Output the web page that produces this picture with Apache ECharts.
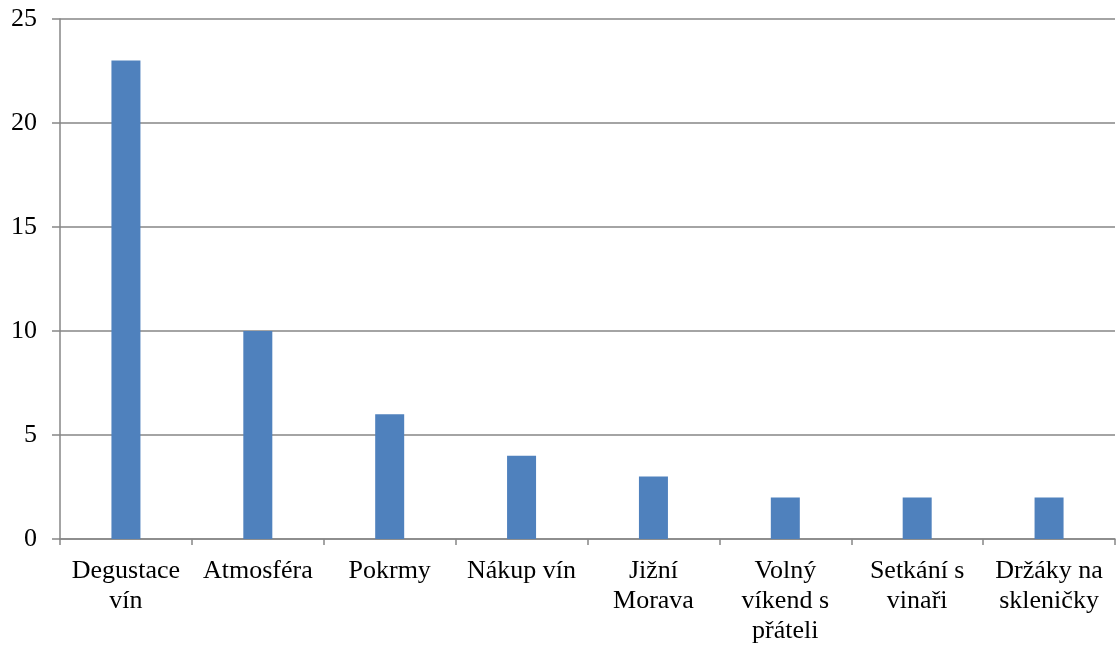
<!DOCTYPE html>
<html>
<head>
<meta charset="utf-8">
<script src="https://cdn.jsdelivr.net/npm/echarts@6/dist/echarts.min.js"></script>
<style>
html, body { margin: 0; padding: 0; background: #fff; }
#main { width: 1116px; height: 646px; }
</style>
</head>
<body>
<div id="main"></div>
<script>
var categories = ['Degustace\nvín', 'Atmosféra', 'Pokrmy', 'Nákup vín', 'Jižní\nMorava', 'Volný\nvíkend s\npřáteli', 'Setkání s\nvinaři', 'Držáky na\nskleničky'];
var counts = [23, 10, 6, 4, 3, 2, 2, 2];
var yTicks = { min: 0, max: 25, step: 5 };

var dom = document.getElementById("main");
var myChart = echarts.init(dom);
var option = {
    animation: false,
    grid: { left: 60, right: 1, top: 19, bottom: 106 },
    xAxis: {
        type: 'category',
        data: categories,
        axisLine: { lineStyle: { color: '#868686', width: 1.5 } },
        axisTick: { show: true, length: 6, alignWithLabel: false, lineStyle: { color: '#868686', width: 1.5 } },
        axisLabel: {
            interval: 0,
            margin: 17,
            color: '#000',
            fontFamily: 'Liberation Serif',
            fontSize: 26,
            lineHeight: 30
        }
    },
    yAxis: {
        type: 'value',
        min: yTicks.min,
        max: yTicks.max,
        interval: yTicks.step,
        axisLine: { show: true, lineStyle: { color: '#868686', width: 1.5 } },
        axisTick: { show: true, length: 8, lineStyle: { color: '#868686', width: 1.5 } },
        splitLine: { lineStyle: { color: '#868686', width: 1.5 } },
        axisLabel: {
            margin: 23,
            color: '#000',
            fontFamily: 'Liberation Serif',
            fontSize: 26
        }
    },
    series: [{
        type: 'bar',
        data: counts,
        barWidth: 29,
        itemStyle: { color: '#4F81BD' }
    }]
};
myChart.setOption(option, true);
</script>
</body>
</html>
